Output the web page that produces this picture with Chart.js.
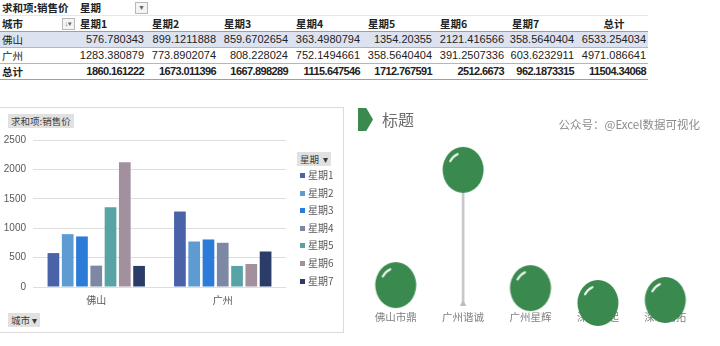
<!DOCTYPE html>
<html>
<head>
<meta charset="utf-8">
<script src="https://cdn.jsdelivr.net/npm/chart.js@4.4.1/dist/chart.umd.min.js"></script>
<style>
  body { margin: 0; width: 720px; height: 346px; background: #fff; position: relative; overflow: hidden;
         font-family: "Liberation Sans", "Noto Sans CJK SC", sans-serif; color: #222; }
  .abs { position: absolute; }
  #pivot { position: absolute; left: 0; top: 0; border-collapse: collapse; table-layout: fixed; font-size: 11px; }
  #pivot td { padding: 0 2px; height: 15px; line-height: 15px; white-space: nowrap; overflow: hidden; }
  #pivot td.num { text-align: right; }
  #pivot .cn { font-family: "Noto Sans CJK SC", sans-serif; font-size: 10.5px; }
  #pivot tr.bold td { font-weight: bold; }
  #pivot tr.bold td.num { letter-spacing: -0.6px; }
  .btn { position: absolute; background: #e1e1e1; color: #3a3a3a; font-family: "Noto Sans CJK SC", sans-serif;
         font-size: 9.5px; line-height: 14px; height: 14px; padding: 0 3px; white-space: nowrap; }
  .drop { position: absolute; width: 11px; height: 10px; border: 1px solid #b8b8b8; background: #f4f4f4;
          font-size: 7px; line-height: 10px; text-align: center; color: #666; }
  .leg { position: absolute; left: 300px; font-family: "Noto Sans CJK SC", sans-serif; font-size: 10px; color: #595959;
         line-height: 12px; white-space: nowrap; }
  .leg i { display: inline-block; width: 5px; height: 5px; margin-right: 3px; vertical-align: 1px; }
</style>
</head>
<body>
<table id="pivot"></table>
<div class="drop" style="left:135px;top:2px;">▼</div>
<div class="drop" style="left:62px;top:18px;">↓▾</div>

<div class="abs" style="left:0;top:107px;width:344px;height:226px;border:1px solid #dcdcdc;border-left:none;box-sizing:border-box;"></div>
<canvas id="barChart" class="abs" style="left:0;top:107px;" width="343" height="225"></canvas>
<div class="btn" style="left:8px;top:114px;">求和项:销售价</div>
<div class="btn" style="left:297px;top:152px;">星期&nbsp;&nbsp;▾</div>
<div class="btn" style="left:8px;top:313px;">城市 ▾</div>
<div id="legend"></div>

<div class="abs" style="left:358px;top:108px;width:15px;height:23px;background:#3a8a4f;clip-path:polygon(0 0,55% 0,100% 50%,55% 100%,0 100%);"></div>
<div class="abs" style="left:382px;top:108px;font-family:'Noto Sans CJK SC';font-size:16px;line-height:23px;color:#6b6b6b;">标题</div>
<div class="abs" style="right:20px;top:116px;font-family:'Noto Sans CJK SC';font-size:11.5px;line-height:16px;color:#8c8c8c;">公众号：@Excel数据可视化</div>
<canvas id="balloonChart" class="abs" style="left:355px;top:130px;" width="365" height="216"></canvas>

<script>
// pivot table data
const cities = ["佛山", "广州"];
const weekdays = ["星期1", "星期2", "星期3", "星期4", "星期5", "星期6", "星期7"];
const foshan = [576.780343, 899.1211888, 859.6702654, 363.4980794, 1354.20355, 2121.416566, 358.5640404];
const guangzhou = [1283.380879, 773.8902074, 808.228024, 752.1494661, 358.5640404, 391.2507336, 603.6232911];
const cityTotals = [6533.254034, 4971.086641];
const dayTotals = [1860.161222, 1673.011396, 1667.898289, 1115.647546, 1712.767591, 2512.6673, 962.1873315];
const grandTotal = 11504.34068;

// balloon chart data
const companies = ["佛山市鼎", "广州谐诚", "广州星辉", "深圳市起", "深圳明拓"];
const companyValues = [112, 794, 94, 6, 24];

const barColors = ["#4a62a8", "#5e9bd3", "#2b7bd8", "#7c88a4", "#58a3a6", "#a2909f", "#2c3c68"];
const colWidths = [74, 72, 72, 72, 72, 72, 72, 70, 72];

// build the pivot table
const table = document.getElementById("pivot");
const cg = document.createElement("colgroup");
colWidths.forEach(w => { const c = document.createElement("col"); c.style.width = w + "px"; cg.appendChild(c); });
table.appendChild(cg);

function addRow(cells, opts) {
  const tr = document.createElement("tr");
  if (opts.cls) tr.className = opts.cls;
  cells.forEach((txt, i) => {
    const td = document.createElement("td");
    td.textContent = txt;
    if (typeof txt === "number") td.className = "num";
    else td.className = "cn";
    if (opts.align && opts.align[i]) td.style.textAlign = opts.align[i];
    if (opts.padL && i > 0) td.style.paddingLeft = opts.padL + "px";
    if (opts.bg) td.style.background = opts.bg;
    if (opts.border) td.style.borderBottom = "1px solid " + opts.border;
    if (opts.top) td.style.borderTop = "1px solid " + opts.top;
    tr.appendChild(td);
  });
  table.appendChild(tr);
}
addRow(["求和项:销售价", "星期", "", "", "", "", "", "", ""], { cls: "bold", padL: 6 });
addRow(["城市"].concat(weekdays, ["总计"]), { cls: "bold", padL: 6, align: { 8: "center" }, border: "#8ea0c9", top: "#e4e7ee" });
addRow([cities[0]].concat(foshan, [cityTotals[0]]), { bg: "#dde2f0", border: "#aab6d6" });
addRow([cities[1]].concat(guangzhou, [cityTotals[1]]), { border: "#aab6d6" });
addRow(["总计"].concat(dayTotals, [grandTotal]), { cls: "bold", border: "#8ea0c9" });

// legend for the pivot chart
const legend = document.getElementById("legend");
weekdays.forEach((d, i) => {
  const el = document.createElement("div");
  el.className = "leg";
  el.style.top = (169 + i * 17.6) + "px";
  el.innerHTML = `<i style="background:${barColors[i]}"></i>${d}`;
  legend.appendChild(el);
});

// pivot bar chart
new Chart(document.getElementById("barChart"), {
  type: "bar",
  data: {
    labels: cities,
    datasets: weekdays.map((d, i) => ({
      label: d,
      data: [foshan[i], guangzhou[i]],
      backgroundColor: barColors[i],
      categoryPercentage: 0.79,
      barPercentage: 0.82
    }))
  },
  options: {
    responsive: false,
    animation: false,
    layout: { padding: { left: 0, top: 33, right: 57, bottom: 0 } },
    plugins: { legend: { display: false }, tooltip: { enabled: false } },
    scales: {
      y: {
        min: 0, max: 2500,
        ticks: { stepSize: 500, padding: 7, color: "#595959", font: { size: 10, family: "Liberation Sans" },
                 callback: v => String(v) },
        grid: { color: "#dedede", drawTicks: false },
        border: { display: false },
        afterFit: s => { s.width = 33; }
      },
      x: {
        grid: { display: false, drawTicks: false },
        border: { display: false },
        ticks: { padding: 7, color: "#595959", font: { size: 10, family: "Noto Sans CJK SC" } },
        afterFit: s => { s.height = 45; }
      }
    }
  }
});

// balloon picture used as the point style
function makeBalloon() {
  const c = document.createElement("canvas");
  c.width = 44; c.height = 50;
  const ctx = c.getContext("2d");
  ctx.fillStyle = "#3a8a4f";
  ctx.beginPath();
  ctx.ellipse(22, 25, 20.5, 23, 0, 0, Math.PI * 2);
  ctx.fill();
  ctx.strokeStyle = "rgba(255,255,255,0.9)";
  ctx.lineWidth = 2.2;
  ctx.lineCap = "round";
  ctx.beginPath();
  ctx.ellipse(22, 25, 15, 17, 0, Math.PI * 1.17, Math.PI * 1.38);
  ctx.stroke();
  return c;
}

new Chart(document.getElementById("balloonChart"), {
  type: "bar",
  data: {
    labels: companies,
    datasets: [
      {
        type: "line",
        data: companyValues,
        showLine: false,
        pointStyle: makeBalloon(),
        clip: false,
        order: 0
      },
      {
        type: "line",
        data: companies.map(() => 0),
        showLine: false,
        pointStyle: "triangle",
        pointRadius: 3,
        backgroundColor: "#bdbdbd",
        borderColor: "#bdbdbd",
        clip: false,
        order: 1
      },
      {
        type: "bar",
        data: companyValues.map(v => [0, v]),
        backgroundColor: "#c8c8c8",
        barThickness: 2,
        order: 2
      }
    ]
  },
  options: {
    responsive: false,
    animation: false,
    layout: { padding: { left: 7, top: 4, right: 21, bottom: 0 } },
    plugins: { legend: { display: false }, tooltip: { enabled: false } },
    scales: {
      y: { display: false, min: 0, max: 1000 },
      x: {
        grid: { display: false, drawTicks: false },
        border: { display: false },
        ticks: { padding: 7, color: "#7f7f7f", font: { size: 10.5, family: "Noto Sans CJK SC" } },
        afterFit: s => { s.height = 42; }
      }
    }
  }
});
</script>
</body>
</html>
